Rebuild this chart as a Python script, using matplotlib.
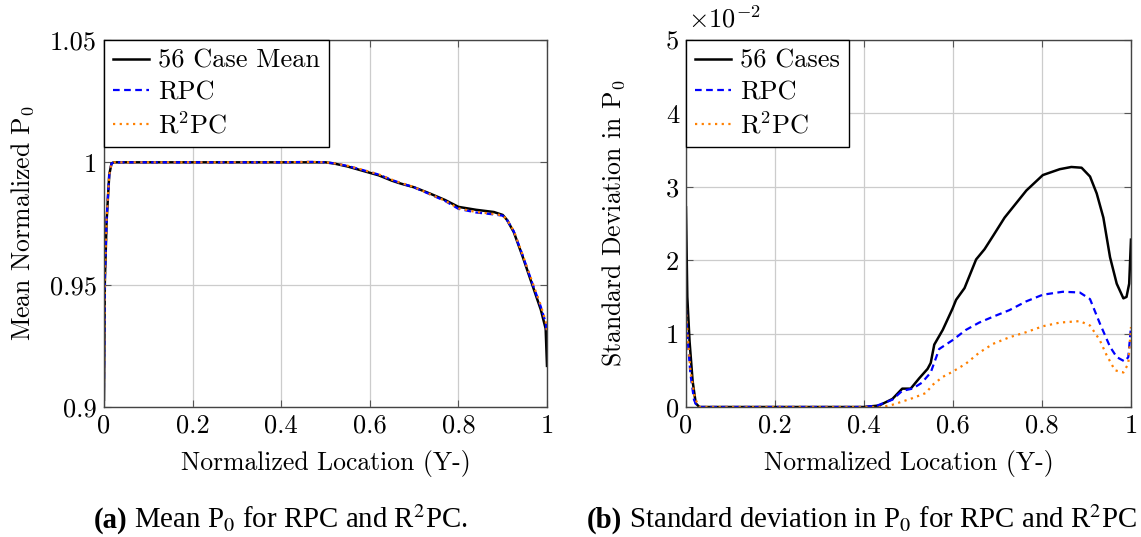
import matplotlib
matplotlib.use("Agg")
import matplotlib.pyplot as plt
from matplotlib.ticker import FuncFormatter, MultipleLocator

plt.rcParams['font.family'] = 'serif'
plt.rcParams['font.serif'] = ['cmr10', 'DejaVu Serif']
plt.rcParams['mathtext.fontset'] = 'cm'
plt.rcParams['axes.formatter.use_mathtext'] = True

# --- (a) mean normalized P0 ---
mean_x = [0, 0.002, 0.006, 0.012, 0.017, 0.022, 0.1, 0.2, 0.3, 0.4, 0.47, 0.5, 0.52,
          0.55, 0.585, 0.62, 0.65, 0.67, 0.7, 0.735, 0.77, 0.8, 0.84, 0.88, 0.9, 0.91,
          0.925, 0.945, 0.968, 0.986, 0.997, 1.0]
mean_56 = [0.903, 0.951, 0.976, 0.995, 0.9995, 1.0, 1.0, 1.0, 1.0, 1.0, 1.0, 1.0, 0.9995,
           0.9983, 0.9965, 0.9947, 0.9925, 0.9913, 0.9898, 0.9873, 0.9846, 0.9818, 0.9806,
           0.9797, 0.9785, 0.9764, 0.9715, 0.9615, 0.9493, 0.9398, 0.932, 0.9168]
mean_rpc = [0.907, 0.952, 0.977, 0.995, 0.9995, 1.0, 1.0, 1.0, 1.0, 1.0, 1.0002, 1.0, 0.9996,
            0.9985, 0.9968, 0.995, 0.9928, 0.9915, 0.9898, 0.9870, 0.9842, 0.9810, 0.9795,
            0.9787, 0.9782, 0.9764, 0.9718, 0.9620, 0.9500, 0.9410, 0.9345, 0.930]
mean_r2pc = [0.908, 0.952, 0.977, 0.995, 0.9995, 1.0, 1.0, 1.0, 1.0, 1.0, 1.0002, 1.0, 0.9996,
             0.9986, 0.9969, 0.9951, 0.9929, 0.9916, 0.9899, 0.9871, 0.9843, 0.9812, 0.9797,
             0.9789, 0.9783, 0.9765, 0.9720, 0.9622, 0.9505, 0.9415, 0.935, 0.931]

# --- (b) standard deviation in P0 (units of 1e-2) ---
std56_x = [0, 0.003, 0.008, 0.015, 0.022, 0.03, 0.2, 0.4, 0.434, 0.464, 0.486, 0.505, 0.524,
           0.543, 0.55, 0.558, 0.577, 0.599, 0.607, 0.626, 0.652, 0.671, 0.69, 0.716, 0.765,
           0.802, 0.84, 0.866, 0.889, 0.908, 0.923, 0.938, 0.953, 0.968, 0.983, 0.99, 0.996, 1.0]
std56 = [2.72, 1.5, 0.9, 0.35, 0.05, 0, 0, 0, 0.02, 0.11, 0.25, 0.25, 0.39, 0.52, 0.6, 0.85,
         1.05, 1.34, 1.46, 1.62, 2.01, 2.15, 2.33, 2.58, 2.95, 3.16, 3.24, 3.27, 3.26, 3.14,
         2.91, 2.58, 2.04, 1.68, 1.48, 1.5, 1.68, 2.28]
rpc_x = [0, 0.004, 0.01, 0.018, 0.025, 0.2, 0.4, 0.43, 0.464, 0.486, 0.509, 0.53, 0.55, 0.569,
         0.599, 0.629, 0.659, 0.69, 0.727, 0.765, 0.802, 0.847, 0.885, 0.908, 0.93, 0.953,
         0.968, 0.986, 0.994, 1.0]
std_rpc = [1.32, 0.9, 0.45, 0.1, 0, 0, 0, 0.02, 0.1, 0.22, 0.25, 0.33, 0.47, 0.79, 0.91, 1.05,
           1.15, 1.23, 1.32, 1.44, 1.53, 1.57, 1.56, 1.47, 1.14, 0.82, 0.68, 0.62, 0.68, 1.09]
r2pc_x = [0, 0.004, 0.01, 0.02, 0.03, 0.2, 0.44, 0.464, 0.509, 0.539, 0.554, 0.577, 0.599,
          0.629, 0.659, 0.69, 0.727, 0.765, 0.802, 0.84, 0.885, 0.908, 0.93, 0.945, 0.964,
          0.983, 0.994, 1.0]
std_r2pc = [1.35, 0.95, 0.5, 0.12, 0, 0, 0, 0.03, 0.12, 0.19, 0.30, 0.41, 0.48, 0.59, 0.74,
            0.86, 0.95, 1.02, 1.10, 1.15, 1.17, 1.11, 0.91, 0.71, 0.50, 0.47, 0.59, 1.09]

BLUE = '#0000ff'
ORANGE = '#ff8000'
FS = 19        # ticks / legend
LFS = 18.5     # axis labels
CAP_FS = 20.8  # captions

fig = plt.figure(figsize=(11.41, 5.37), dpi=100)
ax1 = fig.add_axes([0.0911, 0.2421, 0.3883, 0.6834])
ax2 = fig.add_axes([0.6012, 0.2421, 0.3900, 0.6834])


def style_axes(ax):
    ax.grid(True, color='#cccccc', linewidth=0.9)
    ax.set_axisbelow(True)
    ax.tick_params(direction='in', top=True, right=True, labelsize=FS,
                   color='#555555', length=5, pad=5)
    for s in ax.spines.values():
        s.set_color('#444444')
        s.set_linewidth(1.0)
    ax.set_xlim(0, 1)
    ax.xaxis.set_major_locator(MultipleLocator(0.2))
    ax.xaxis.set_major_formatter(FuncFormatter(lambda v, p: '%g' % round(v, 3)))
    ax.set_xlabel('Normalized Location (Y-)', fontsize=LFS, labelpad=9)


# left panel
ax1.plot(mean_x, mean_56, color='black', lw=1.8, label='56 Case Mean')
ax1.plot(mean_x, mean_rpc, color=BLUE, lw=1.6, ls=(0, (3, 2)), label='RPC')
ax1.plot(mean_x, mean_r2pc, color=ORANGE, lw=1.6, ls=(0, (1, 2)), label=r'R$^2$PC')
style_axes(ax1)
ax1.set_ylim(0.9, 1.05)
ax1.set_yticks([0.9, 0.95, 1.0, 1.05])
ax1.yaxis.set_major_formatter(FuncFormatter(lambda v, p: '%g' % round(v, 3)))
ax1.set_ylabel(r'Mean Normalized $\mathrm{P}_0$', fontsize=LFS, labelpad=10)

# right panel
ax2.plot(std56_x, std56, color='black', lw=1.8, label='56 Cases')
ax2.plot(rpc_x, std_rpc, color=BLUE, lw=1.6, ls=(0, (3, 2)), label='RPC')
ax2.plot(r2pc_x, std_r2pc, color=ORANGE, lw=1.6, ls=(0, (1, 2)), label=r'R$^2$PC')
style_axes(ax2)
ax2.set_ylim(0, 5)
ax2.set_yticks([0, 1, 2, 3, 4, 5])
ax2.yaxis.set_major_formatter(FuncFormatter(lambda v, p: '%g' % v))
ax2.set_ylabel(r'Standard Deviation in $\mathrm{P}_0$', fontsize=LFS, labelpad=28)
ax2.text(0.005, 1.02, r'$\times10^{-2}$', transform=ax2.transAxes, fontsize=FS,
         ha='left', va='bottom')

for ax in (ax1, ax2):
    leg = ax.legend(loc='upper left', fontsize=FS, frameon=True, fancybox=False,
                    borderaxespad=0, handlelength=1.35, handletextpad=0.35,
                    borderpad=0.35, labelspacing=0.28, framealpha=1)
    leg.get_frame().set_edgecolor('black')
    leg.get_frame().set_linewidth(1.0)

# captions: bold tag followed by the plain text
ta = fig.text(0.082, 0.018, '(a)', fontsize=CAP_FS, fontweight='bold',
              family='Liberation Serif', va='baseline')
ax1.annotate(r' Mean P$_0$ for RPC and R$^2$PC.', xy=(1, 0), xycoords=ta,
             fontsize=CAP_FS, family='Liberation Serif', math_fontfamily='stix',
             va='bottom', ha='left', annotation_clip=False)
tb = fig.text(0.514, 0.018, '(b)', fontsize=CAP_FS, fontweight='bold',
              family='Liberation Serif', va='baseline')
ax2.annotate(r' Standard deviation in P$_0$ for RPC and R$^2$PC', xy=(1, 0), xycoords=tb,
             fontsize=CAP_FS, family='Liberation Serif', math_fontfamily='stix',
             va='bottom', ha='left', annotation_clip=False)

fig.savefig('out.png', dpi=100)
